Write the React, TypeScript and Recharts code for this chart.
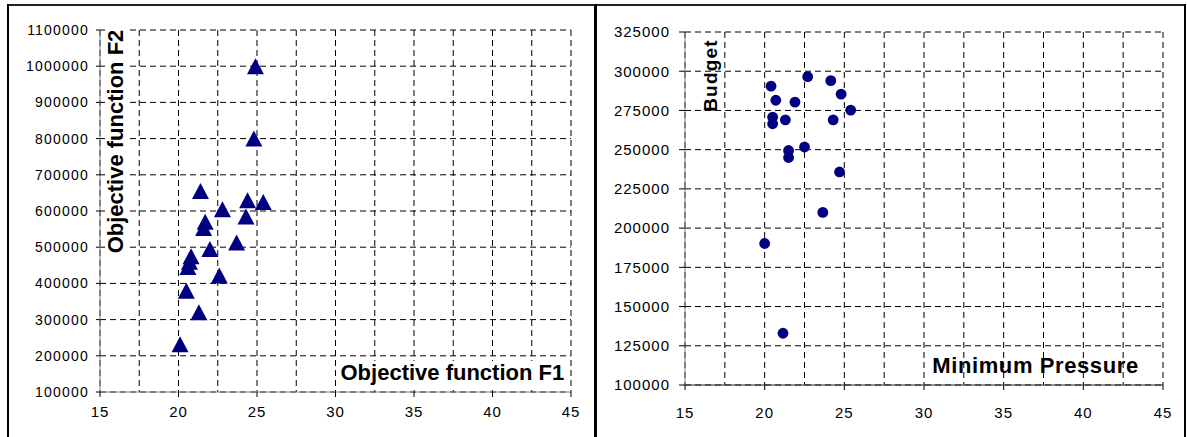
import React from 'react';
import { ScatterChart, Scatter, XAxis, YAxis, CartesianGrid } from 'recharts';

// ---- Data ----
const f1Values = [24.9, 24.8, 21.4, 24.4, 25.4, 22.8, 24.3, 21.7, 21.6, 23.7, 22.0, 20.8, 20.7, 20.6, 22.6, 20.5, 21.3, 20.1];
const f2Values = [1000000, 800000, 655000, 630000, 625000, 605000, 585000, 570000, 553000, 513000, 495000, 475000, 460000, 445000, 422000, 380000, 320000, 232000];

const pressureValues = [22.7, 24.15, 20.4, 24.8, 20.7, 21.9, 25.4, 20.5, 21.3, 24.3, 20.5, 21.5, 22.5, 21.5, 24.7, 23.65, 20.0, 21.15];
const budgetValues = [296500, 294000, 290500, 285400, 281500, 280300, 275200, 270700, 269000, 269000, 266500, 249500, 251700, 245000, 235800, 210000, 190200, 133000];

const xTicks = [15, 17.5, 20, 22.5, 25, 27.5, 30, 32.5, 35, 37.5, 40, 42.5, 45];
const f2Ticks = [100000, 200000, 300000, 400000, 500000, 600000, 700000, 800000, 900000, 1000000, 1100000];
const budgetTicks = [100000, 125000, 150000, 175000, 200000, 225000, 250000, 275000, 300000, 325000];

const leftData = f1Values.map((x, i) => ({ x, y: f2Values[i] }));
const rightData = pressureValues.map((x, i) => ({ x, y: budgetValues[i] }));

const FONT = '"Liberation Sans", Arial, sans-serif';
const NAVY = '#000080';

function makeXTick(tickSize: number, tickMargin: number) {
  return (props: any) => {
    const { x, y, payload } = props;
    const v = payload.value;
    if (Math.abs(v % 5) > 1e-9) return <g />;
    const axisY = y - tickMargin - tickSize;
    return (
      <g>
        <line x1={x} x2={x} y1={axisY} y2={axisY + tickSize} stroke="#000" />
        <text x={x} y={y} dy="0.71em" textAnchor="middle" fontSize={15} fill="#000" fontFamily={FONT} letterSpacing={1}>
          {v}
        </text>
      </g>
    );
  };
}

const Triangle = (props: any) => {
  const { cx, cy } = props;
  return <path d={`M${cx},${cy - 8} L${cx + 8.5},${cy + 8} L${cx - 8.5},${cy + 8} Z`} fill={NAVY} />;
};

const Dot = (props: any) => {
  const { cx, cy } = props;
  return <circle cx={cx} cy={cy} r={5.4} fill={NAVY} />;
};

export default function App() {
  return (
    <div style={{ position: 'absolute', left: 0, top: 0, width: 1187, height: 437, background: '#fff', overflow: 'hidden' }}>
      {/* Left chart */}
      <div style={{ position: 'absolute', left: 0, top: 0 }}>
        <ScatterChart width={597} height={437} margin={{ top: 30, right: 26, bottom: 0, left: 0 }}>
          <CartesianGrid stroke="#000" strokeDasharray="6 4" />
          <XAxis
            type="number"
            dataKey="x"
            domain={[15, 45]}
            ticks={xTicks}
            interval={0}
            height={45}
            tickSize={5}
            tickMargin={9}
            tickLine={false}
            axisLine={{ stroke: '#808080' }}
            tick={makeXTick(5, 9)}
          />
          <YAxis
            type="number"
            dataKey="y"
            domain={[100000, 1100000]}
            ticks={f2Ticks}
            interval={0}
            width={100}
            tickSize={4}
            tickMargin={7}
            axisLine={{ stroke: '#808080' }}
            tickLine={{ stroke: '#000' }}
            tick={{ fontSize: 14, fill: '#000', fontFamily: FONT, letterSpacing: 1.2 }}
          />
          <Scatter data={leftData} shape={Triangle} isAnimationActive={false} />
        </ScatterChart>
      </div>

      {/* Right chart */}
      <div style={{ position: 'absolute', left: 597, top: 0 }}>
        <ScatterChart width={590} height={437} margin={{ top: 32, right: 24, bottom: 0, left: 0 }}>
          <CartesianGrid stroke="#000" strokeDasharray="6 4" />
          <XAxis
            type="number"
            dataKey="x"
            domain={[15, 45]}
            ticks={xTicks}
            interval={0}
            height={52}
            tickSize={5}
            tickMargin={17}
            tickLine={false}
            axisLine={{ stroke: '#222' }}
            tick={makeXTick(5, 17)}
          />
          <YAxis
            type="number"
            dataKey="y"
            domain={[100000, 325000]}
            ticks={budgetTicks}
            interval={0}
            width={88}
            tickSize={6}
            tickMargin={9}
            axisLine={{ stroke: '#808080' }}
            tickLine={{ stroke: '#000' }}
            tick={{ fontSize: 15, fill: '#000', fontFamily: FONT, letterSpacing: 1 }}
          />
          <Scatter data={rightData} shape={Dot} isAnimationActive={false} />
        </ScatterChart>
      </div>

      {/* Titles overlay */}
      <svg width={1187} height={437} style={{ position: 'absolute', left: 0, top: 0, pointerEvents: 'none' }}>
        <rect x={338} y={361} width={226} height={26} fill="#fff" />
        <text x={340.5} y={380} fontSize={22} fontWeight="bold" fontFamily={FONT} fill="#000">
          Objective function F1
        </text>
        <rect x={105} y={28} width={24} height={228} fill="#fff" />
        <text x={123.3} y={141.5} fontSize={22} fontWeight="bold" fontFamily={FONT} fill="#000" textAnchor="middle" transform="rotate(-90 123.3 141.5)">
          Objective function F2
        </text>
        <text x={716.7} y={75.5} fontSize={19} fontWeight="bold" fontFamily={FONT} fill="#000" textAnchor="middle" letterSpacing={1.2} transform="rotate(-90 716.7 75.5)">
          Budget
        </text>
        <text x={932.3} y={372.7} fontSize={22} fontWeight="bold" fontFamily={FONT} fill="#000" letterSpacing={0.6}>
          Minimum Pressure
        </text>
      </svg>

      {/* Panel borders */}
      <div style={{ position: 'absolute', left: 7, top: 4, width: 1179, height: 2, background: '#222' }} />
      <div style={{ position: 'absolute', left: 7, top: 4, width: 2, height: 433, background: '#000' }} />
      <div style={{ position: 'absolute', left: 594, top: 4, width: 3, height: 433, background: '#000' }} />
      <div style={{ position: 'absolute', left: 1184, top: 4, width: 2, height: 433, background: '#000' }} />
    </div>
  );
}
